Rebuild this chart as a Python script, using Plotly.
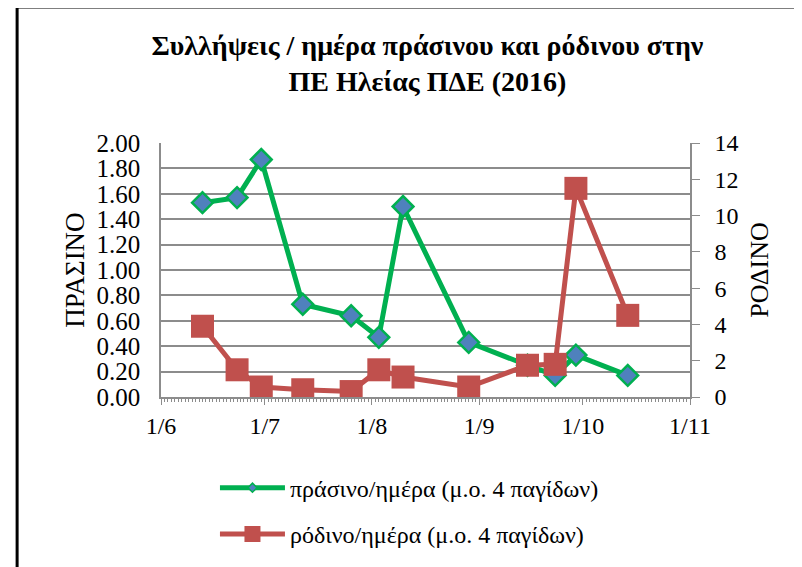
import plotly.graph_objects as go

# Data
dates = ["2016-06-13", "2016-06-23", "2016-06-30", "2016-07-12", "2016-07-26", "2016-08-03",
         "2016-08-10", "2016-08-29", "2016-09-15", "2016-09-23", "2016-09-29", "2016-10-14"]
green_vals = [1.53, 1.57, 1.87, 0.73, 0.64, 0.47, 1.50, 0.43, 0.25, 0.17, 0.33, 0.17]
red_vals = [3.9, 1.5, 0.55, 0.4, 0.3, 1.5, 1.1, 0.55, 1.75, 1.8, 11.5, 4.5]

green_name = "πράσινο/ημέρα (μ.ο. 4 παγίδων)"
red_name = "ρόδινο/ημέρα (μ.ο. 4 παγίδων)"
title_text = "<b>Συλλήψεις / ημέρα πράσινου και ρόδινου στην<br>ΠΕ Ηλείας ΠΔΕ (2016)</b>"

GREEN = "#00b050"
BLUE = "#4f81bd"
RED = "#c0504d"
GRID = "#8c8c8c"
FONT = "Liberation Serif"

fig = go.Figure()

fig.add_trace(go.Scatter(
    x=dates, y=green_vals, mode="lines+markers", name=green_name, showlegend=False,
    line=dict(color=GREEN, width=5),
    marker=dict(symbol="diamond", size=16, color=BLUE, line=dict(color=GREEN, width=2.5)),
    yaxis="y"))
fig.add_trace(go.Scatter(
    x=dates, y=red_vals, mode="lines+markers", name=red_name, showlegend=False,
    line=dict(color=RED, width=5),
    marker=dict(symbol="square", size=23, color=RED),
    yaxis="y2"))

# legend-only entries
fig.add_trace(go.Scatter(
    x=[None], y=[None], mode="lines+markers", name=green_name, legendgroup="g",
    line=dict(color=GREEN, width=5),
    marker=dict(symbol="diamond", size=7, color=BLUE, line=dict(color=GREEN, width=1.5))))
fig.add_trace(go.Scatter(
    x=[None], y=[None], mode="lines+markers", name=red_name, legendgroup="r",
    line=dict(color=RED, width=5),
    marker=dict(symbol="square", size=16, color=RED), yaxis="y2"))

fig.update_layout(
    width=802, height=567,
    margin=dict(l=153, r=120, t=135, b=178),
    paper_bgcolor="white", plot_bgcolor="white",
    font=dict(family=FONT, color="black"),
    title=dict(text=title_text, x=0.523, xanchor="center", y=0.917, yanchor="top",
               font=dict(family=FONT, size=28, color="black")),
    xaxis=dict(type="date", range=["2016-06-01", "2016-11-01"],
               tick0="2016-06-01", dtick="M1", tickformat="%-d/%-m",
               showgrid=False, showline=True, linecolor=GRID, linewidth=1.5,
               ticks="outside", ticklen=6, tickcolor=GRID,
               minor=dict(dtick=86400000, ticks="outside", ticklen=3, tickcolor=GRID, showgrid=False),
               tickfont=dict(family=FONT, size=24)),
    yaxis=dict(range=[0, 2], dtick=0.2, tickformat=".2f",
               showgrid=True, gridcolor=GRID, gridwidth=1.5,
               showline=True, linecolor=GRID, linewidth=1.5,
               ticks="", zeroline=False, ticklabelstandoff=14,
               tickfont=dict(family=FONT, size=25),
               title=dict(text="ΠΡΑΣΙΝΟ", font=dict(family=FONT, size=27), standoff=4)),
    yaxis2=dict(range=[0, 14], dtick=2, overlaying="y", side="right",
                showgrid=False, showline=True, linecolor=GRID, linewidth=1.5,
                ticks="outside", ticklen=8, tickcolor=GRID, zeroline=False,
                ticklabelstandoff=10,
                tickfont=dict(family=FONT, size=24),
                title=dict(text="ΡΟΔΙΝΟ", font=dict(family=FONT, size=26), standoff=12)),
    legend=dict(x=0.102, xanchor="left", y=-0.27, yanchor="top",
                font=dict(family=FONT, size=24), itemwidth=65,
                tracegroupgap=12, traceorder="grouped", bgcolor="rgba(0,0,0,0)"),
    shapes=[dict(type="rect", xref="paper", yref="paper",
                 x0=-0.272, x1=1.4, y0=-0.8, y1=1.535,
                 line=dict(color="black", width=3), fillcolor="rgba(0,0,0,0)", layer="below")],
)

fig.write_html("out.html")
